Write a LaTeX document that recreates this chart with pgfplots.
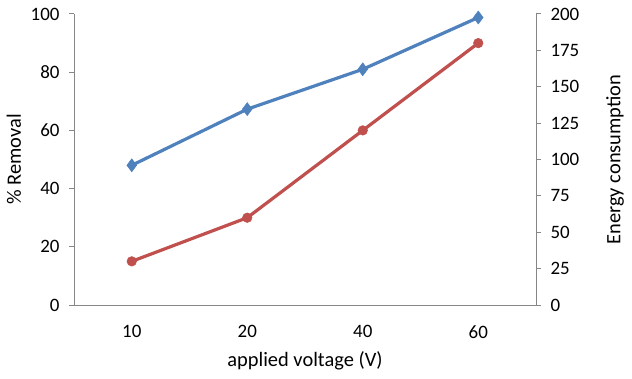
\documentclass[border=0pt]{standalone}
\usepackage{fontspec}
\setmainfont{Carlito}
\usepackage{pgfplots}
\pgfplotsset{compat=1.18}
\definecolor{axisgray}{RGB}{134,134,134}
\definecolor{serblue}{RGB}{79,129,189}
\definecolor{serred}{RGB}{192,80,77}
\begin{document}
\begin{tikzpicture}[x=1bp,y=1bp]
\path[use as bounding box] (0,0) rectangle (632,378);
\pgfplotsset{
  twin/.style={
    scale only axis, width=462bp, height=291bp,
    at={(74bp,73bp)}, anchor=south west,
    xmin=-0.5, xmax=3.5, xtick={0,1,2,3}, xticklabels={10,20,40,60},
    /pgf/number format/assume math mode=true,
    tick label style={font=\fontsize{19}{22}\selectfont},
    label style={font=\fontsize{20.5}{24}\selectfont},
    axis line style={axisgray, line width=1bp},
    tick style={axisgray, line width=1bp},
    major tick length=5bp,
    tick align=outside,
    major x tick style={draw=none},
    clip=false,
  },
}
% left axis: % removal
\begin{axis}[twin,
  axis y line*=left, axis x line*=bottom,
  ymin=0, ymax=100, ytick={0,20,...,100},
  yticklabel style={xshift=-6bp},
  xticklabel style={yshift=-12bp},
  xlabel={applied voltage (V)},
  xlabel style={at={(axis description cs:0.5,-0.192)}, anchor=center},
  ylabel={\% Removal},
  ylabel style={at={(axis description cs:-0.1299,0.5)}, anchor=center, rotate=0},
]
\addplot[serblue, line width=3.2bp, mark=diamond*, mark size=6.5bp,
  mark options={fill=serblue, draw=serblue, line width=0.5bp}]
  coordinates {(0,48) (1,67.3) (2,81) (3,98.8)};
\end{axis}
% right axis: energy consumption
\begin{axis}[twin,
  axis y line*=right, axis x line=none,
  ymin=0, ymax=200, ytick={0,25,...,200},
  yticklabel style={xshift=6bp},
  ylabel={Energy consumption},
  ylabel style={at={(axis description cs:1.171,0.5)}, anchor=center},
]
\addplot[serred, line width=3.2bp, mark=*, mark size=4.8bp,
  mark options={fill=serred, draw=serred, line width=0.5bp}]
  coordinates {(0,30) (1,60) (2,120) (3,180)};
\end{axis}
\end{tikzpicture}
\end{document}
